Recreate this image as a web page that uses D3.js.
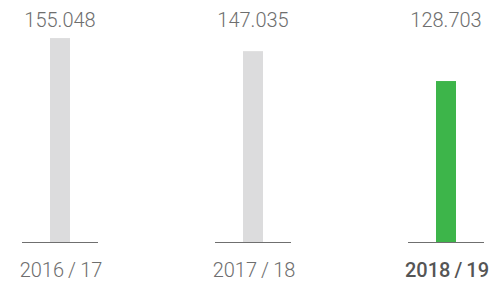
<!DOCTYPE html>
<html><head><meta charset="utf-8">
<script src="https://cdn.jsdelivr.net/npm/d3@7"></script>
<style>html,body{margin:0;padding:0;background:#fff;}svg{display:block;}</style>
</head><body>
<svg id="c" width="493" height="283"></svg>
<script>
const categories = ["2016\u2009/\u200917", "2017\u2009/\u200918", "2018\u2009/\u200919"];
const values = [155.048, 147.035, 128.703];
const valueLabels = ["155.048", "147.035", "128.703"];
const highlight = [false, false, true];

const svg = d3.select("#c");
const x = d3.scalePoint().domain(categories).range([60, 446]);
const y = d3.scaleLinear().domain([30, 160]).range([242, 30]);
const barW = 20, baseHalf = 38;
const font = "Roboto, 'Liberation Sans', Arial, sans-serif";

const g = svg.selectAll("g.bar").data(categories).enter().append("g");
g.append("line")
  .attr("x1", d => x(d) - baseHalf).attr("x2", d => x(d) + baseHalf)
  .attr("y1", y(30) + 0.5).attr("y2", y(30) + 0.5)
  .attr("stroke", "#6f6f6f").attr("stroke-width", 1);
g.append("rect")
  .attr("x", d => x(d) - barW / 2).attr("width", barW)
  .attr("y", (d, i) => y(values[i])).attr("height", (d, i) => y(30) - y(values[i]))
  .attr("fill", (d, i) => highlight[i] ? "#3db54a" : "#dcdcdd");
g.append("text")
  .attr("x", d => x(d)).attr("y", 27).attr("text-anchor", "middle")
  .attr("font-family", font).attr("font-size", 20).attr("font-weight", 300).attr("fill", "#6e6e6e")
  .text((d, i) => valueLabels[i]);
g.append("text")
  .attr("x", d => x(d) + 1).attr("y", 277).attr("text-anchor", "middle")
  .attr("font-family", font).attr("font-size", 20)
  .attr("font-weight", (d, i) => highlight[i] ? 500 : 300)
  .attr("fill", (d, i) => highlight[i] ? "#555" : "#6e6e6e")
  .text(d => d);
</script>
</body></html>
